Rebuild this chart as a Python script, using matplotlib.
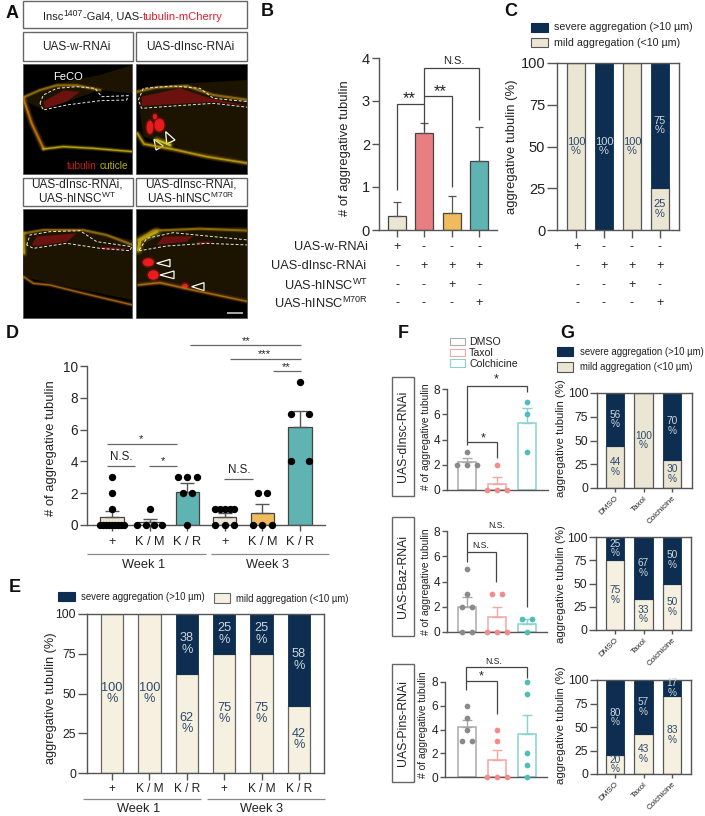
import matplotlib
matplotlib.use('Agg')
import matplotlib.pyplot as plt
import numpy as np
from matplotlib.patches import Rectangle, Ellipse, Polygon

plt.rcParams['font.family'] = ['Liberation Sans', 'DejaVu Sans']
plt.rcParams['mathtext.default'] = 'regular'

W, H = 705, 816
BEIGE = '#ebe5d4'
LIGHT_BEIGE = '#f5f0e0'
NAVY = '#0d2e50'
PINK = '#e77f82'
ORANGE = '#f0bb5c'
TEAL = '#5fb3b3'
SPINE = '#555555'
INK = '#222222'

# panel B
b_means = [0.33, 2.25, 0.4, 1.6]
b_errs = [0.33, 0.25, 0.4, 0.8]
b_colors = [BEIGE, PINK, ORANGE, TEAL]
row_names = ['UAS-w-RNAi', 'UAS-dInsc-RNAi', 'UAS-hINSC$^{WT}$', 'UAS-hINSC$^{M70R}$']
row_signs = [['+', '-', '-', '-'],
             ['-', '+', '+', '+'],
             ['-', '-', '+', '-'],
             ['-', '-', '-', '+']]

# panel C
c_severe = [0, 100, 0, 75]
c_mild = [100, 0, 100, 25]

# panel D
d_labels = ['+', 'K / M', 'K / R', '+', 'K / M', 'K / R']
d_means = [0.5, 0.2, 2.1, 0.5, 0.75, 6.15]
d_errs = [0.35, 0.2, 0.55, 0.28, 0.55, 1.0]
d_colors = [BEIGE, BEIGE, TEAL, BEIGE, ORANGE, TEAL]
d_points = [[3, 2, 1, 0, 0, 0, 0, 0, 0, 0, 0, 0],
            [1, 0, 0, 0, 0],
            [3, 3, 3, 2, 2, 0],
            [1, 1, 1, 1, 1, 0, 0, 0],
            [2, 2, 0, 0, 0],
            [9, 7, 7, 4, 4]]

# panel E
e_severe = [0, 0, 38, 25, 25, 58]
e_mild = [100, 100, 62, 75, 75, 42]

# panel F
f_groups = ['DMSO', 'Taxol', 'Colchicine']
f_row_names = ['UAS-dInsc-RNAi', 'UAS-Baz-RNAi', 'UAS-Pins-RNAi']
f_means = [[2.25, 0.5, 5.3], [2.0, 1.2, 0.67], [4.2, 1.4, 3.6]]
f_errs = [[0.25, 0.5, 1.2], [0.75, 0.75, 0.35], [0.6, 0.85, 1.6]]
f_points = [[[3, 2, 2, 2], [2, 0, 0, 0], [7, 6, 3]],
            [[5, 3, 2, 2, 0, 0], [3, 3, 0, 0, 0], [1, 1, 0]],
            [[6, 5, 4, 3, 3], [4, 3, 0, 0, 0], [8, 7, 2, 1, 0]]]

# panel G
g_severe = [[56, 0, 70], [25, 67, 50], [80, 57, 17]]
g_mild = [[44, 100, 30], [75, 33, 50], [20, 43, 83]]

fig = plt.figure(figsize=(W / 100, H / 100), dpi=100)

# overlay in pixel coordinates for labels, brackets and the micrographs
ov = fig.add_axes([0, 0, 1, 1], zorder=10)
ov.set_xlim(0, W)
ov.set_ylim(H, 0)
ov.axis('off')
ov.patch.set_alpha(0)


def px_axes(l, t, r, b, x0, step, ymax):
    ax = fig.add_axes([l / W, 1 - b / H, (r - l) / W, (b - t) / H])
    ax.set_xlim((l - x0) / step, (r - x0) / step)
    ax.set_ylim(0, ymax)
    ax.patch.set_alpha(0)
    return ax


def style_axes(ax, ticks, size, ticklen, lw=1.0, frame=False):
    ax.spines['top'].set_visible(frame)
    ax.spines['right'].set_visible(frame)
    for s in ax.spines.values():
        s.set_color(SPINE)
        s.set_linewidth(lw)
    ax.set_yticks(ticks)
    ax.tick_params(axis='both', color=SPINE, width=lw, length=ticklen, labelsize=size,
                   labelcolor=INK, pad=1.5)


def line(xs, ys, color='#444444', lw=0.9):
    ov.plot(xs, ys, color=color, lw=lw, solid_capstyle='butt', solid_joinstyle='miter')


def label(x, y, s, size=8, color=INK, **kw):
    kw.setdefault('ha', 'center')
    kw.setdefault('va', 'center')
    ov.text(x, y, s, fontsize=size, color=color, **kw)


def swatch(x0, x1, y0, y1, face, edge):
    ov.add_patch(Rectangle((x0, y0), x1 - x0, y1 - y0, facecolor=face, edgecolor=edge, lw=0.8))


def swarm(ax, x, values, color, size, spreads=0.25, maxwidth=0.65):
    values = np.array(values, dtype=float)
    for v in np.unique(values):
        k = int((values == v).sum())
        sp = min(spreads, maxwidth / max(k - 1, 1))
        xs = x + (np.arange(k) - (k - 1) / 2) * sp
        ax.scatter(xs, [v] * k, s=size, color=color, zorder=6, clip_on=False, linewidths=0)


def stacked(ax, severe, mild, width, text_size, mild_color=BEIGE, edge='#555555'):
    x = np.arange(len(severe))
    ax.bar(x, mild, width, color=mild_color, edgecolor=edge, lw=0.9)
    ax.bar(x, severe, width, bottom=mild, color=NAVY, edgecolor=NAVY, lw=0.6)
    for i in x:
        if mild[i] > 0:
            ax.text(i, mild[i] / 2, '%d\n%%' % mild[i], ha='center', va='center',
                    fontsize=text_size, color='#2d4a6b', linespacing=0.95)
        if severe[i] > 0:
            ax.text(i, mild[i] + severe[i] / 2, '%d\n%%' % severe[i], ha='center', va='center',
                    fontsize=text_size, color='#ccd6df', linespacing=0.95)


def outline_box(x0, y0, x1, y1, edge='#666666'):
    ov.add_patch(Rectangle((x0, y0), x1 - x0, y1 - y0, facecolor='white', edgecolor=edge, lw=1.0))


def zpts(pts):
    return np.array(pts, dtype=float) / 3.0


def micrograph(x0, y0, x1, y1, glow, cuticle, band, outline, reds, blobs, triangles):
    # rough sketch of the fluorescence picture, coordinates are 3x pixels
    clip = Rectangle((x0, y0), x1 - x0, y1 - y0, facecolor='black', edgecolor='#555555', lw=0.6)
    ov.add_patch(clip)
    g = Polygon(zpts(glow), closed=True, facecolor='#1c1400', edgecolor='none')
    ov.add_patch(g)
    g.set_clip_path(clip)
    for pts, col, lw in cuticle:
        p = zpts(pts)
        for w, a in [(lw * 2.4, 0.18), (lw * 1.5, 0.3), (lw * 0.7, 0.85)]:
            l, = ov.plot(p[:, 0], p[:, 1], color=col, lw=w, alpha=a, solid_capstyle='round')
            l.set_clip_path(clip)
    for pts in reds:
        r = Polygon(zpts(pts), closed=True, facecolor='#7a1212', edgecolor='none', alpha=0.85)
        ov.add_patch(r)
        r.set_clip_path(clip)
    p = zpts(band)
    for w, a in [(3.0, 0.2), (1.5, 0.6)]:
        l, = ov.plot(p[:, 0], p[:, 1], color='#c09010', lw=w, alpha=a)
        l.set_clip_path(clip)
    p = zpts(outline + outline[:1])
    l, = ov.plot(p[:, 0], p[:, 1], color='#e8e8e8', lw=0.7, ls=(0, (3, 2)))
    l.set_clip_path(clip)
    for (cx, cy, w, h) in blobs:
        ov.add_patch(Ellipse((cx / 3, cy / 3), w / 3 + 3, h / 3 + 3, facecolor='#a01010',
                             edgecolor='none', alpha=0.5))
        ov.add_patch(Ellipse((cx / 3, cy / 3), w / 3, h / 3, facecolor='#e81c1c', edgecolor='none'))
    for t in triangles:
        ov.add_patch(Polygon(zpts(t), closed=True, facecolor='none', edgecolor='white', lw=0.9))


# ---- panel A
outline_box(23, 1, 247, 28)
x = 43
renderer = fig.canvas.get_renderer()
for s, col, sz, dy in [('Insc', INK, 8.0, 0), ('1407', INK, 6.2, -3), ('-Gal4, UAS-', INK, 8.0, 0),
                       ('tubulin-mCherry', '#e01f26', 8.0, 0)]:
    tx = ov.text(x, 16.5 + dy, s, fontsize=sz, color=col, ha='left', va='center')
    x += tx.get_window_extent(renderer).width
outline_box(23, 32, 133, 61)
outline_box(136, 32, 247, 61)
label(76, 47, 'UAS-w-RNAi', 8.6)
label(190, 47, 'UAS-dInsc-RNAi', 8.6)
outline_box(23, 178, 133, 206)
outline_box(136, 178, 247, 206)
label(77, 192, 'UAS-dInsc-RNAi,\nUAS-hINSC$^{WT}$', 8.6, linespacing=1.0)
label(191, 192, 'UAS-dInsc-RNAi,\nUAS-hINSC$^{M70R}$', 8.6, linespacing=1.0)

micrograph(23, 64, 132, 174,
           [(70, 290), (170, 250), (300, 225), (398, 195), (398, 280), (300, 270), (130, 330), (70, 300)],
           [([(70, 295), (95, 370), (130, 445)], '#c87a10', 2.0),
            ([(130, 447), (190, 440), (280, 445), (398, 455)], '#c8b010', 1.4)],
           [(70, 292), (120, 270), (170, 256), (230, 256), (300, 270)],
           [(120, 310), (130, 285), (170, 265), (230, 260), (285, 265), (305, 290), (385, 287), (380, 300),
            (300, 302), (200, 315), (130, 330)],
           [[(130, 305), (190, 272), (240, 275), (200, 305), (135, 325)]], [], [])
micrograph(136, 64, 247, 174,
           [(410, 270), (560, 250), (745, 240), (745, 480), (620, 465), (430, 410)],
           [([(412, 400), (432, 432), (520, 448), (620, 470), (745, 490)], '#c8a010', 1.8),
            ([(470, 420), (510, 435)], '#d8d020', 2.2)],
           [(412, 275), (470, 262), (560, 258), (640, 285), (745, 300)],
           [(415, 300), (430, 265), (520, 258), (600, 265), (640, 295), (745, 305), (745, 322), (640, 310),
            (520, 318), (425, 325)],
           [[(425, 290), (540, 265), (630, 295), (745, 318), (640, 306), (520, 312), (425, 318)]],
           [(478, 375, 30, 38), (450, 382, 20, 40), (465, 350, 12, 16)],
           [[(462, 418), (490, 438), (468, 450)], [(497, 395), (525, 420), (500, 432)]])
micrograph(23, 209, 132, 318,
           [(70, 700), (250, 690), (398, 720), (398, 900), (150, 850), (70, 830)],
           [([(70, 830), (100, 850), (150, 855), (250, 880), (398, 915)], '#b06a10', 1.3),
            ([(70, 700), (72, 760)], '#c8a010', 2.0)],
           [(70, 700), (130, 690), (250, 690), (320, 705), (398, 735)],
           [(80, 735), (90, 705), (150, 695), (240, 692), (290, 725), (395, 740), (390, 752), (300, 745),
            (200, 730), (100, 745)],
           [[(95, 735), (110, 710), (230, 700), (200, 725), (110, 738)], [(300, 740), (390, 745), (310, 750)]],
           [], [])
micrograph(136, 209, 247, 318,
           [(412, 720), (460, 690), (745, 680), (745, 900), (555, 860), (412, 850)],
           [([(415, 855), (480, 848), (555, 865), (650, 885), (745, 905)], '#b87010', 1.5),
            ([(415, 750), (420, 720), (470, 695)], '#c8b010', 3.0)],
           [(415, 720), (460, 692), (600, 686), (745, 692)],
           [(418, 750), (440, 715), (520, 698), (600, 706), (745, 720), (745, 735), (620, 730), (500, 738),
            (420, 752)],
           [[(470, 735), (490, 710), (580, 708), (560, 725)], [(590, 725), (640, 725), (600, 735)]],
           [(445, 787, 33, 24), (460, 825, 32, 28), (555, 858, 18, 14)],
           [[(470, 790), (510, 778), (510, 800)], [(480, 825), (522, 813), (522, 836)],
            [(575, 860), (612, 848), (612, 872)]])
label(68, 77, 'FeCO', 8, 'white')
label(82, 166, 'tubulin', 7.3, '#c81e1e')
label(114, 166, 'cuticle', 7.3, '#b8b010')
line([227, 243], [313, 313], '#aaaaaa', 1.4)

# ---- panel B
ax = px_axes(379, 58, 497, 230, 397, 27.4, 4)
for i in range(4):
    ax.bar(i, b_means[i], 0.66, color=b_colors[i], edgecolor='#444444', lw=0.9)
    ax.errorbar(i, b_means[i], yerr=[[0], [b_errs[i]]], color='#555555', capsize=3.2, lw=0.9, capthick=0.9)
style_axes(ax, [0, 1, 2, 3, 4], 10.5, 5)
ax.set_xticks(range(4))
ax.set_xticklabels([])
label(345, 148, '# of aggregative tubulin', 9.4, rotation=90)
for y, name, signs in zip([247, 266, 285, 303], row_names, row_signs):
    label(368 if y != 266 else 366, y, name, 9.2, ha='right')
    for bx, s in zip([397, 424, 452, 479], signs):
        label(bx, y, s, 9)
line([397, 397, 424, 424], [190, 104, 104, 130])
line([424, 424, 479, 479], [104, 68, 68, 120])
line([424, 452, 452], [96, 96, 187])
label(409, 99, '**', 12)
label(440, 92, '**', 12)
label(454, 61, 'N.S.', 8)

# ---- panel C
ax = px_axes(557, 63, 679, 230, 576, 28, 100)
stacked(ax, c_severe, c_mild, 0.66, 8)
style_axes(ax, [0, 25, 50, 75, 100], 10.5, 7, frame=True)
ax.set_xticks(range(4))
ax.set_xticklabels([])
ax.tick_params(axis='x', length=5.5)
label(512, 147, 'aggregative tubulin (%)', 9.4, rotation=90)
for y, signs in zip([247, 266, 285, 303], row_signs):
    for bx, s in zip([577, 604, 632, 660], signs):
        label(bx, y, s, 9)
swatch(531, 548, 23, 32, NAVY, NAVY)
swatch(531, 548, 38, 47, BEIGE, '#555555')
label(554, 27.5, 'severe aggregation (>10 µm)', 7.7, ha='left')
label(554, 42.5, 'mild aggregation (<10 µm)', 7.7, ha='left')

# ---- panel D
ax = px_axes(87, 366, 325, 525, 112, 37.6, 10)
for i in range(6):
    ax.bar(i, d_means[i], 0.62, color=d_colors[i], edgecolor='#444444', lw=0.9)
    ax.errorbar(i, d_means[i], yerr=[[0], [d_errs[i]]], color='#555555', capsize=4.7, lw=1.0, capthick=1.0)
    swarm(ax, i, d_points[i], 'black', 28, spreads=0.5 if i == 5 else 0.25,
          maxwidth=0.5 if i == 3 else 0.65)
style_axes(ax, [0, 2, 4, 6, 8, 10], 9.8, 5)
ax.set_xticks(range(6))
ax.set_xticklabels(d_labels)
ax.tick_params(axis='x', length=4.5, labelsize=9.2, pad=3.5)
label(51, 448, '# of aggregative tubulin', 9.4, rotation=90)
line([190, 301], [345, 345], '#666666')
line([230, 301], [359, 359], '#666666')
line([273, 301], [371, 371], '#666666')
line([107, 177], [444, 444], '#666666')
line([107, 135], [466, 466], '#666666')
line([149, 177], [466, 466], '#666666')
line([224, 253], [479, 479], '#666666')
label(246, 341, '**', 8)
label(264, 354, '***', 8)
label(286, 367, '**', 8)
label(141, 439, '*', 8)
label(163, 461, '*', 8)
label(121, 457, 'N.S.', 8.4)
label(239, 470, 'N.S.', 8.4)
line([87, 206], [553.5, 553.5], '#888888')
line([211, 329], [553.5, 553.5], '#888888')
label(144, 565, 'Week 1', 9.2)
label(267, 565, 'Week 3', 9.2)

# ---- panel E
ax = px_axes(87, 614, 324, 773, 112, 37.4, 100)
stacked(ax, e_severe, e_mild, 0.6, 9.2, mild_color=LIGHT_BEIGE, edge='#666666')
style_axes(ax, [0, 25, 50, 75, 100], 8.8, 6.5, frame=True)
ax.set_xticks(range(6))
ax.set_xticklabels(d_labels)
ax.tick_params(axis='x', length=5, labelsize=8.6, pad=2.5)
label(51, 698, 'aggregative tubulin (%)', 9.2, rotation=90)
swatch(58, 75, 592, 601, NAVY, NAVY)
swatch(214, 230, 593, 603, LIGHT_BEIGE, '#666666')
label(81, 597, 'severe aggregation (>10 µm)', 6.9, ha='left')
label(236, 599, 'mild aggregation (<10 µm)', 6.9, ha='left')
line([83, 201], [799, 799], '#888888')
line([207, 325], [799, 799], '#888888')
label(139, 809, 'Week 1', 9.2)
label(262, 809, 'Week 3', 9.2)

# ---- panel F
f_edges = ['#aaaaaa', '#f4a5a5', '#86d3cf']
f_dots = ['#8a8a8a', '#f28b8b', '#4fbdb8']
f_frames = [(447, 389, 548, 490), (447, 531, 547, 632), (445, 682, 547, 777)]
f_label_x = [426, 426, 423]
f_label_y = [437, 582, 725]
for r in range(3):
    l, t_, rt, b = f_frames[r]
    ax = px_axes(l, t_, rt, b, 467, 30, 8)
    for i in range(3):
        ax.bar(i, f_means[r][i], 0.63, color='white', edgecolor=f_edges[i], lw=1.1)
        ax.errorbar(i, f_means[r][i], yerr=[[0], [f_errs[r][i]]], color=f_edges[i], capsize=3.6,
                    lw=1.0, capthick=1.0)
        swarm(ax, i, f_points[r][i], f_dots[i], 17, spreads=0.33)
    style_axes(ax, [0, 2, 4, 6, 8], 8.6, 3.4)
    ax.set_xticks([])
    label(f_label_x[r], f_label_y[r], '# of aggregative tubulin', 7.4, rotation=90)
for (y0, y1, cy), name in zip([(377, 496, 436), (517, 636, 576), (664, 782, 723)], f_row_names):
    outline_box(392, y0, 414, y1)
    label(403, cy, name, 8.8, rotation=90)
for y0, y1, col, name, ty in [(338, 345, f_edges[0], f_groups[0], 342), (349, 356, f_edges[1], f_groups[1], 353),
                              (359, 367, f_edges[2], f_groups[2], 364)]:
    swatch(450, 465, y0, y1, 'white', col)
    label(469, ty, name, 7.6, ha='left')
line([467, 467, 527, 527], [445, 386, 386, 392])
line([467, 497, 497], [442, 442, 458])
label(496, 379, '*', 9)
label(483, 438, '*', 9)
line([467, 467, 527, 527], [562, 533, 533, 607])
line([467, 496, 496], [552, 552, 582])
label(497, 526, 'N.S.', 6.2)
label(481, 545, 'N.S.', 6.2)
line([466, 466, 527, 527], [690, 667, 667, 678])
line([466, 497, 497], [681, 681, 714])
label(494, 661, 'N.S.', 6.2)
label(481, 676, '*', 9)

# ---- panel G
g_frames = [(597, 393, 692, 488), (596, 537, 691, 630), (597, 680, 691, 774)]
g_label_y = [438, 584, 725]
g_mild_colors = [BEIGE, LIGHT_BEIGE, LIGHT_BEIGE]
for r in range(3):
    l, t_, rt, b = g_frames[r]
    ax = px_axes(l, t_, rt, b, 615, 28.5, 100)
    stacked(ax, g_severe[r], g_mild[r], 0.66, 7.3, mild_color=g_mild_colors[r])
    style_axes(ax, [0, 25, 50, 75, 100], 8.8, 4.8, frame=True)
    ax.set_xticks(range(3))
    ax.set_xticklabels(f_groups, rotation=45, ha='right', rotation_mode='anchor')
    ax.tick_params(axis='x', labelsize=5.8, length=3, pad=2)
    label(561, g_label_y[r], 'aggregative tubulin (%)', 8.2, rotation=90)
swatch(557, 573, 347, 356, NAVY, NAVY)
swatch(557, 573, 362, 372, BEIGE, '#555555')
label(580, 352, 'severe aggregation (>10 µm)', 6.9, ha='left')
label(580, 367, 'mild aggregation (<10 µm)', 6.9, ha='left')

# panel letters
for s, x, y in [('A', 6, 13), ('B', 261, 12), ('C', 504, 12), ('D', 6, 334), ('E', 9, 588),
                ('F', 398, 334), ('G', 560, 334)]:
    label(x, y, s, 13, '#111111', fontweight='bold', ha='left')

fig.savefig('out.png', dpi=100)
